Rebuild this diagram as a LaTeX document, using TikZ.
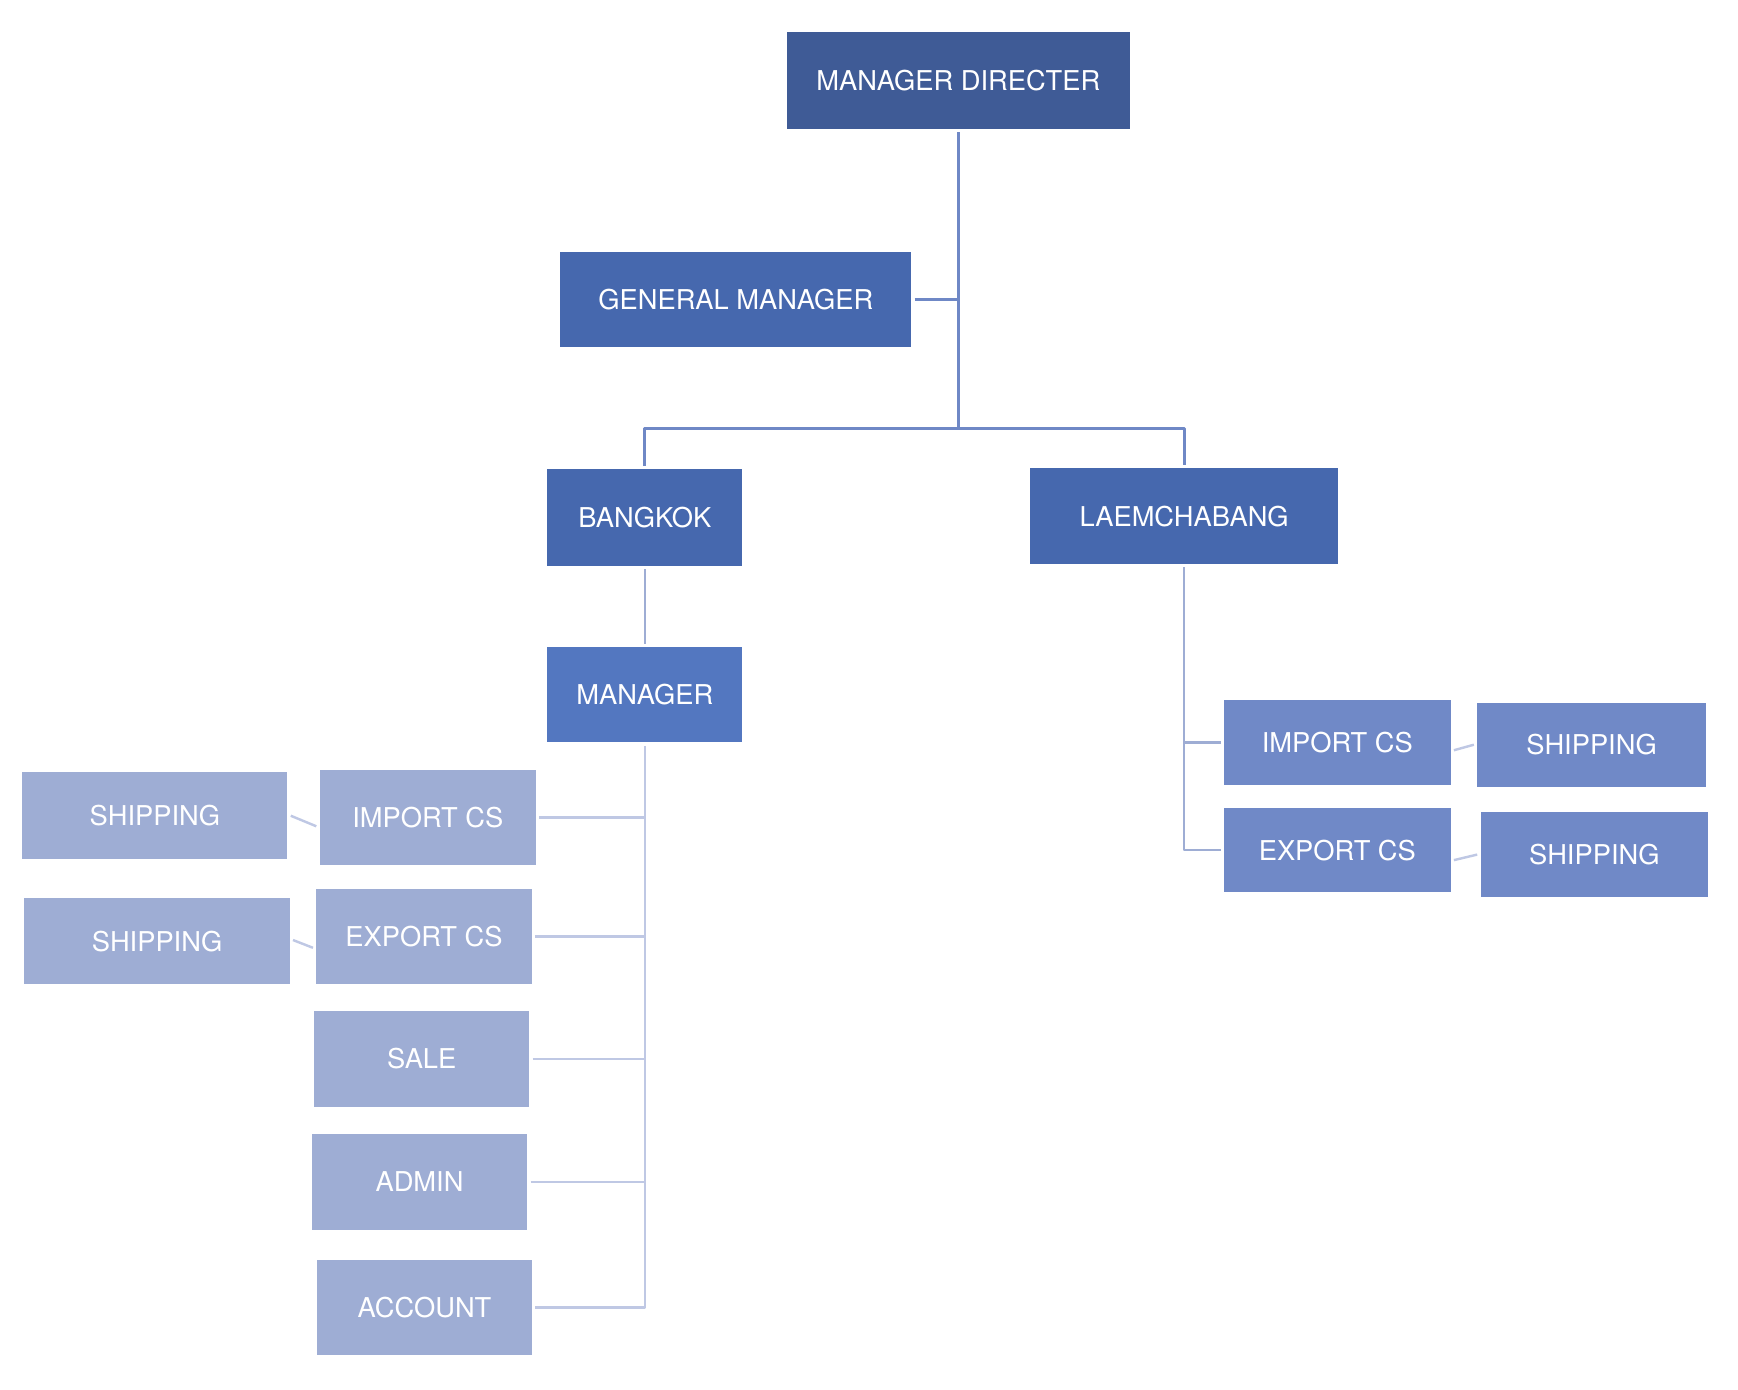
\documentclass[tikz,border=0pt]{standalone}
\usepackage{fontspec}
\setmainfont{TeX Gyre Heros}
\begin{document}
\begin{tikzpicture}[x=0.5pt,y=-0.5pt,line join=round,
	box/.style={inner sep=0pt,outer sep=1.5pt,text=white,font=\fontsize{12.3}{14}\selectfont},
	lvA/.style={box,fill=lvAcol},
	lvB/.style={box,fill=lvBcol},
	lvC/.style={box,fill=lvCcol},
	lvD/.style={box,fill=lvDcol},
	lvE/.style={box,fill=lvEcol},
	link/.style={line width=1.3pt,draw=lnA},
	linkB/.style={line width=1.1pt,draw=lnB},
	linkC/.style={line width=1.1pt,draw=lnC}]
	\definecolor{lvAcol}{HTML}{3F5B96}
	\definecolor{lvBcol}{HTML}{4668AE}
	\definecolor{lvCcol}{HTML}{5377C0}
	\definecolor{lvDcol}{HTML}{7089C7}
	\definecolor{lvEcol}{HTML}{9EADD4}
	\definecolor{lnA}{HTML}{6F88C6}
	\definecolor{lnB}{HTML}{9EADD4}
	\definecolor{lnC}{HTML}{BFC8E4}
	\useasboundingbox (0,0) rectangle (1566,1252);
	% top levels
	\node[lvA,minimum width=154.5pt,minimum height=43.5pt] (md) at (863.5,72.5) {MANAGER DIRECTER};
	\node[lvB,minimum width=158pt,minimum height=43pt] (gm) at (663,270) {GENERAL MANAGER};
	\node[lvB,minimum width=88pt,minimum height=43.5pt] (bkk) at (581,466.5) {BANGKOK};
	\node[lvB,minimum width=139pt,minimum height=43pt] (lcb) at (1067,465) {LAEMCHABANG};
	\node[lvC,minimum width=88pt,minimum height=43pt] (mgr) at (581,626) {MANAGER};
	\coordinate (jn) at (863.5,386);
	% laemchabang side
	\node[lvD,minimum width=102pt,minimum height=38pt] (rimp) at (1205,669) {IMPORT CS};
	\node[lvD,minimum width=102pt,minimum height=38pt] (rexp) at (1205,766) {EXPORT CS};
	\node[lvD,minimum width=103pt,minimum height=38pt] (rsh1) at (1434,671) {SHIPPING};
	\node[lvD,minimum width=102.5pt,minimum height=38pt] (rsh2) at (1436.5,770) {SHIPPING};
	% bangkok side
	\node[lvE,minimum width=97.5pt,minimum height=42.5pt] (limp) at (385.5,736.5) {IMPORT CS};
	\node[lvE,minimum width=97pt,minimum height=43pt] (lexp) at (382,844) {EXPORT CS};
	\node[lvE,minimum width=97pt,minimum height=43pt] (sale) at (380,954) {SALE};
	\node[lvE,minimum width=97pt,minimum height=43pt] (admin) at (378,1065) {ADMIN};
	\node[lvE,minimum width=96.5pt,minimum height=43pt] (acc) at (382.5,1178) {ACCOUNT};
	\node[lvE,minimum width=119.5pt,minimum height=39pt] (lsh1) at (139.5,735) {SHIPPING};
	\node[lvE,minimum width=119.5pt,minimum height=39pt] (lsh2) at (141.5,848) {SHIPPING};
	% connectors
	\draw[link] (md.south) -- (jn);
	\draw[link] (gm.east) -- (gm.east -| jn);
	\draw[link] (bkk.north) |- (jn) -| (lcb.north);
	\draw[linkB] (bkk) -- (mgr);
	\draw[linkB] (lcb.south) |- (rexp.west);
	\draw[linkB] (rimp.west) -- (rimp.west -| lcb.south);
	\draw[linkC] (mgr.south) |- (acc.east);
	\foreach \n in {limp,lexp,sale,admin}
		\draw[linkC] (\n.east) -- (\n.east -| mgr.south);
	\draw[linkC] ([yshift=-3.5pt]rimp.east) -- (rsh1.west);
	\draw[linkC] ([yshift=-4.5pt]rexp.east) -- (rsh2.west);
	\draw[linkC] (lsh1.east) -- ([yshift=-4pt]limp.west);
	\draw[linkC] ([yshift=0.5pt]lsh2.east) -- ([yshift=-5pt]lexp.west);
\end{tikzpicture}
\end{document}
